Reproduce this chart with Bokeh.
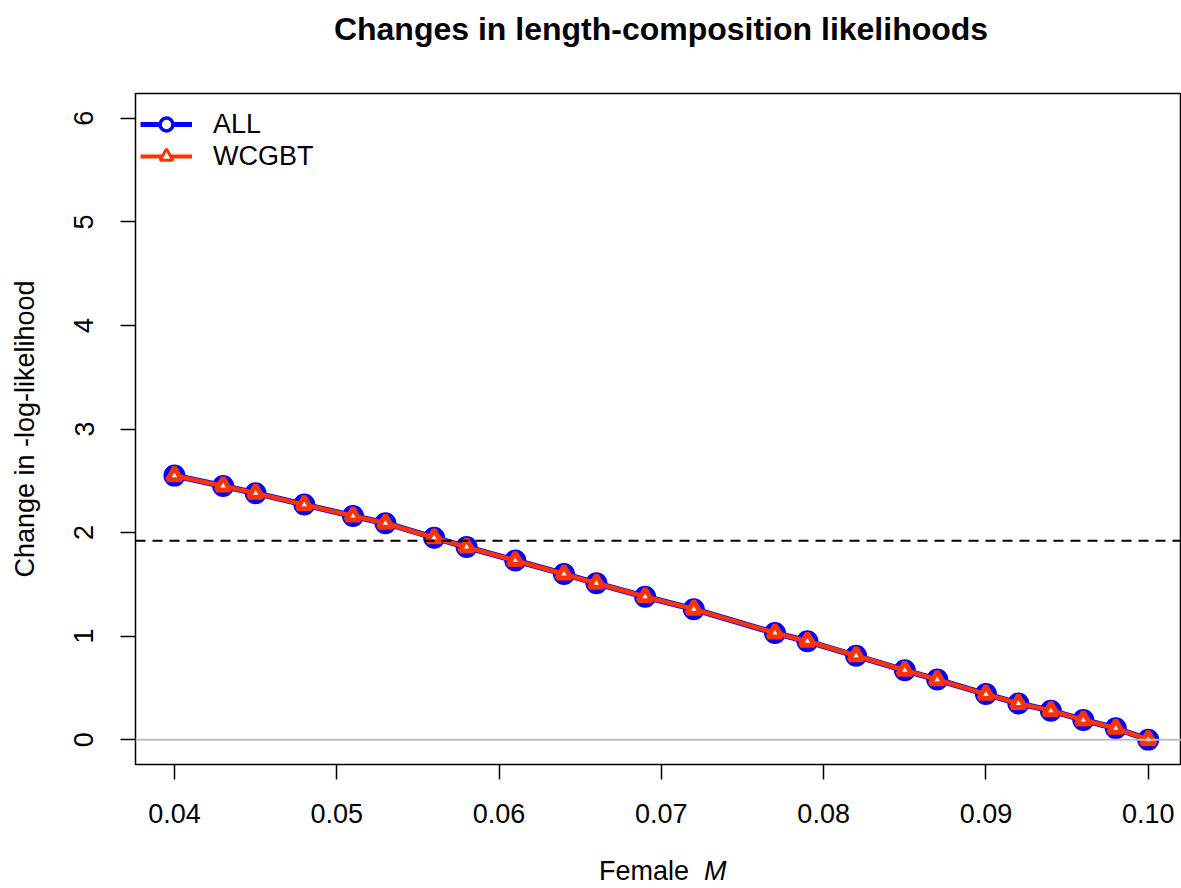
import numpy as np
from bokeh.plotting import figure
from bokeh.models import (ColumnDataSource, Range1d, FixedTicker, PrintfTickFormatter,
                          Span, Legend, LegendItem, Div)
from bokeh.layouts import column
from bokeh.embed import file_html
from bokeh.resources import INLINE

# ---- data ----
female_M = [0.040, 0.043, 0.045, 0.048, 0.051, 0.053, 0.056, 0.058, 0.061, 0.064,
            0.066, 0.069, 0.072, 0.077, 0.079, 0.082, 0.085, 0.087, 0.090, 0.092,
            0.094, 0.096, 0.098, 0.100]
all_nll = [2.55, 2.45, 2.38, 2.27, 2.16, 2.09, 1.95, 1.86, 1.73, 1.60,
           1.51, 1.38, 1.26, 1.03, 0.95, 0.81, 0.67, 0.58, 0.44, 0.35,
           0.28, 0.19, 0.11, 0.00]
wcgbt_nll = [2.55, 2.45, 2.38, 2.27, 2.16, 2.09, 1.95, 1.86, 1.73, 1.60,
             1.51, 1.38, 1.26, 1.03, 0.95, 0.81, 0.67, 0.58, 0.44, 0.35,
             0.28, 0.19, 0.11, 0.00]
series_names = ["ALL", "WCGBT"]
x_ticks = [0.04, 0.05, 0.06, 0.07, 0.08, 0.09, 0.10]
y_ticks = [0, 1, 2, 3, 4, 5, 6]
threshold = 1.92
title_text = "Changes in length-composition likelihoods"
y_label = "Change in -log-likelihood"
x_label_plain = "Female"
x_label_italic = "M"

FONT = "Liberation Sans"
FS = "27px"
BLUE = "#0000FF"
RED = "#FF3300"

src = ColumnDataSource(dict(x=female_M, a=all_nll, w=wcgbt_nll))

TITLE_H = 52
p = figure(width=1181, height=850 - TITLE_H, output_backend="svg", toolbar_location=None,
           x_range=Range1d(0.0376, 0.10205), y_range=Range1d(-0.24, 6.24),
           min_border_left=135, min_border_top=93 - TITLE_H, min_border_bottom=86,
           min_border_right=0, margin=0)
p.grid.visible = False
p.outline_line_color = "black"
p.outline_line_width = 1.5
p.background_fill_color = "white"
p.border_fill_color = "white"

# axes
for ax in (p.xaxis[0], p.yaxis[0]):
    ax.axis_line_color = None
    ax.major_tick_line_color = "black"
    ax.major_tick_line_width = 1.5
    ax.major_tick_out = 15
    ax.major_tick_in = 0
    ax.minor_tick_line_color = None
    ax.major_label_text_font = FONT
    ax.major_label_text_font_size = FS
    ax.major_label_text_color = "black"

p.xaxis.ticker = FixedTicker(ticks=x_ticks)
p.xaxis.formatter = PrintfTickFormatter(format="%.2f")
p.xaxis.major_label_standoff = 24

p.yaxis.ticker = FixedTicker(ticks=y_ticks)
p.yaxis.major_label_orientation = "vertical"
p.yaxis.major_label_standoff = 27
p.yaxis.axis_label = y_label
p.yaxis.axis_label_text_font = FONT
p.yaxis.axis_label_text_font_size = FS
p.yaxis.axis_label_text_font_style = "normal"
p.yaxis.axis_label_text_color = "black"
p.yaxis.axis_label_standoff = 32

# reference lines
p.add_layout(Span(location=0, dimension="width", line_color="#BEBEBE", line_width=2))
p.add_layout(Span(location=threshold, dimension="width", line_color="black",
                  line_width=2, line_dash="10 7"))

# series
p.line("x", "a", source=src, line_color=BLUE, line_width=6)
p.scatter("x", "a", source=src, marker="circle", size=18, line_color=BLUE,
          fill_color=BLUE, line_width=4)
p.line("x", "w", source=src, line_color=RED, line_width=4.5)
p.scatter("x", "w", source=src, marker="triangle", size=14, line_color=RED,
          fill_color="white", line_width=5)

# legend-only renderers (not drawn in the plot)
empty = ColumnDataSource(dict(x=np.array([np.nan]), y=np.array([np.nan])))
la = p.line("x", "y", source=empty, line_color=BLUE, line_width=5)
lam = p.scatter("x", "y", source=empty, marker="circle", size=11, line_color=BLUE,
                fill_color="white", line_width=3.5)
lw = p.line("x", "y", source=empty, line_color=RED, line_width=4)
lwm = p.scatter("x", "y", source=empty, marker="triangle", size=13, line_color=RED,
                fill_color="white", line_width=3)
legend = Legend(items=[LegendItem(label=series_names[0], renderers=[la, lam]),
                       LegendItem(label=series_names[1], renderers=[lw, lwm])],
                location=(5, 592), border_line_color=None, background_fill_alpha=0,
                padding=5, margin=0, spacing=0, glyph_width=52, glyph_height=32,
                label_standoff=21, label_text_font=FONT, label_text_font_size=FS,
                label_text_color="black", label_height=32)
p.add_layout(legend)

title_div = Div(text=(f'<div style="box-sizing:border-box; width:1181px; padding-left:141px; '
                      f'padding-top:13px; text-align:center; font-family:\'{FONT}\'; '
                      f'font-size:32px; font-weight:bold; line-height:32px; color:black; '
                      f'white-space:nowrap;">{title_text}</div>'),
                width=1181, height=TITLE_H, margin=0)

xlab = Div(text=(f'<div style="padding-left:599px; padding-top:8px; font-family:\'{FONT}\'; '
                 f'font-size:{FS}; line-height:26px; color:black; white-space:pre;">'
                 f'{x_label_plain}  <i>{x_label_italic}</i></div>'),
           width=1181, height=36, margin=0)

layout = column(title_div, p, xlab, spacing=0)
open("out.html", "w").write(file_html(layout, INLINE))
